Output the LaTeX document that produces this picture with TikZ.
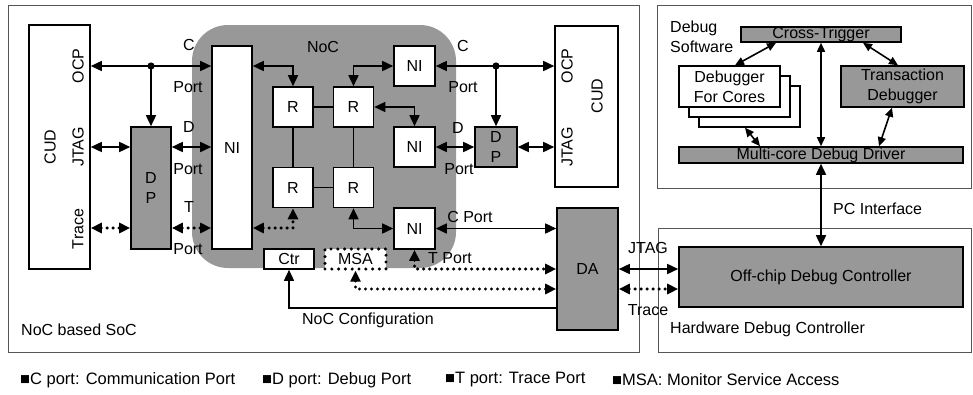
\documentclass[tikz,border=0pt]{standalone}
\usepackage{fontspec}
\setmainfont{Liberation Sans}
\usetikzlibrary{arrows.meta,calc}
\definecolor{ngray}{RGB}{152,152,152}
\definecolor{frame}{RGB}{85,85,85}
\begin{document}
\begin{tikzpicture}[x=1pt,y=-1pt,
  every node/.style={font=\fontsize{16}{20}\selectfont, inner sep=0pt, align=center},
  blk/.style={draw=black, line width=1.6pt, fill=white},
  gblk/.style={draw=black, line width=1.6pt, fill=ngray},
  frm/.style={draw=frame, line width=0.9pt},
  noc/.style={fill=ngray, rounded corners=36pt},
  conn/.style={line width=1.6pt},
  dots/.style={line width=3.4pt, dash pattern=on 0pt off 6pt, line cap=round},
  dotbox/.style={draw=black, fill=white, line width=3.4pt, dash pattern=on 0pt off 6.8pt, line cap=round},
  >={Triangle[length=11pt,width=10pt]},
  sm/.style={line width=1.6pt, >={Triangle[length=9pt,width=8pt]}},
  lbl/.style={anchor=west},
]
\useasboundingbox (0,0) rectangle (973,394);

% frames
\node[frm, minimum width=631, minimum height=347] (soc) at (323.5,178.5) {};
\node[frm, minimum width=314, minimum height=183] (sw) at (814,96.5) {};
\node[frm, minimum width=313, minimum height=124] (hw) at (814.5,290) {};
\node[lbl] (socl) at (21,330) {NoC based SoC};
\node[lbl] (hwl) at (670,329) {Hardware Debug Controller};
\node[anchor=west, align=left] (swl) at (670,37) {Debug\\Software};

% NoC region
\node[noc, minimum width=264, minimum height=243] (nocr) at (324,146.5) {};
\node (nocl) at (323,47) {NoC};

% y-levels
\coordinate (yC) at (0,66);
\coordinate (yD) at (0,147);
\coordinate (yT) at (0,228);
\coordinate (yM) at (0,289);
\coordinate (yN) at (0,308);

% left CUD
\node[blk, minimum width=61, minimum height=244] (cudL) at (59.5,147) {};
\node[rotate=90] (cudLt) at (50,147) {CUD};
\node[rotate=90] (ocpL) at (78,66) {OCP};
\node[rotate=90] (jtagL) at (78,147) {JTAG};
\node[rotate=90] (traceL) at (78,229) {Trace};

\node[gblk, minimum width=40, minimum height=122] (dpL) at (151,188) {D\\P};
\node[blk, minimum width=40, minimum height=203] (niL) at (232,147.5) {NI};

% routers
\node[blk, minimum width=40, minimum height=40] (r1) at (293,107) {R};
\node[blk, minimum width=40, minimum height=40] (r2) at (353.5,107) {R};
\node[blk, minimum width=40, minimum height=40] (r3) at (293,187.5) {R};
\node[blk, minimum width=40, minimum height=40] (r4) at (353.5,187.5) {R};

\node[blk, minimum width=41, minimum height=40] (niA) at (414.5,66) {NI};
\node[blk, minimum width=41, minimum height=40] (niB) at (414.5,147) {NI};
\node[blk, minimum width=41, minimum height=41] (niC) at (414.5,228.5) {NI};

\node[gblk, minimum width=42, minimum height=40] (dpR) at (496,147) {D\\P};
\node[blk, minimum width=63, minimum height=161] (cudR) at (586.5,106.5) {};
\node[rotate=90] (cudRt) at (597,96) {CUD};
\node[rotate=90] (ocpR) at (567,66) {OCP};
\node[rotate=90] (jtagR) at (567,147) {JTAG};

\node[blk, minimum width=50, minimum height=20] (ctr) at (289,259) {Ctr};
\node[dotbox, minimum width=61, minimum height=20] (msa) at (355.5,259) {MSA};
\node[gblk, minimum width=61, minimum height=122] (da) at (587.5,269) {DA};

% software / hardware
\node[gblk, minimum width=284, minimum height=60] (occ) at (821,277) {Off-chip Debug Controller};
\node[gblk, minimum width=284, minimum height=16] (mdd) at (821,155) {Multi-core Debug Driver};
\node[gblk, minimum width=160, minimum height=15] (ct) at (821,34.5) {Cross-Trigger};
\node[blk, line width=1.4pt, minimum width=101, minimum height=41] (dfc3) at (749.5,106.5) {};
\node[blk, line width=1.4pt, minimum width=101, minimum height=41] (dfc2) at (739.5,96.5) {};
\node[blk, line width=1.4pt, minimum width=101, minimum height=41] (dfc) at (729.5,86.5) {Debugger\\For Cores};
\node[gblk, line width=1.4pt, minimum width=123, minimum height=41] (td) at (902.5,86.5) {Transaction\\Debugger};

% router links
\draw[conn] (r1) -- (r2);
\draw[conn] (r1) -- (r3);
\draw[conn] (r2) -- (r4);
\draw[conn] (r3) -- (r4);

% left side connectors
\coordinate (dotL) at (151,66);
\draw[conn,<->] (cudL.east |- yC) -- (niL.west |- yC);
\draw[conn,->] (dotL) -- (dpL.north);
\fill (dotL) circle (3.6);
\draw[conn,<->] (cudL.east |- yD) -- (dpL.west |- yD);
\draw[conn,<->] (dpL.east |- yD) -- (niL.west |- yD);
\draw[dots,<->] (cudL.east |- yT) -- (dpL.west |- yT);
\draw[dots,<->] (dpL.east |- yT) -- (niL.west |- yT);
\node (cl1) at (189,45) {C};
\node (pl1) at (188,87) {Port};
\node (dl1) at (189,127) {D};
\node (pl2) at (188,169) {Port};
\node (tl1) at (189,207) {T};
\node (pl3) at (188,249) {Port};

% inner NoC connectors
\draw[conn,<->] (niL.east |- yC) -| (r1.north);
\draw[conn,<->] (niA.west) -| (r2.north);
\draw[conn,<->] (r2.east) -| (niB.north);
\draw[dots,<->] (niL.east |- yT) -| (r3.south);
\draw[conn,<->] (r4.south) |- (niC.west);

% right side connectors
\coordinate (dotR) at (496,66);
\draw[conn,<->] (niA.east) -- (cudR.west |- yC);
\draw[conn,->] (dotR) -- (dpR.north);
\fill (dotR) circle (3.6);
\draw[conn,<->] (niB.east) -- (dpR.west);
\draw[conn,<->] (dpR.east) -- (cudR.west |- yD);
\node (cl2) at (463,46) {C};
\node (pl4) at (463,87) {Port};
\node (dl2) at (458,128) {D};
\node (pl5) at (459,169) {Port};

% lower connectors to DA
\draw[conn,<->] (niC.east) -- (da.west |- niC.east);
\node (cpl) at (470,217) {C Port};
\draw[dots,<->] (niC.south) |- (da.west);
\node (tpl) at (450,258) {T Port};
\draw[dots,<->] (msa.south) |- (da.west |- yM);
\draw[conn,->] (da.west |- yN) -| (ctr.south);
\node (ncl) at (368,320) {NoC Configuration};

% DA to off-chip
\draw[conn,<->] (da.east) -- (occ.west |- da.east);
\draw[dots,<->] (da.east |- yM) -- (occ.west |- yM);
\node (jl) at (648,248) {JTAG};
\node (trl) at (648,310) {Trace};

% PC interface
\draw[conn,<->] (mdd.south) -- (occ.north);
\node[lbl] (pcl) at (833,209) {PC Interface};

% software arrows
\draw[sm,<->] (ct.south) -- (mdd.north);
\draw[sm,<->] ([xshift=-45pt]ct.south) -- ([xshift=5.5pt]dfc.north);
\draw[sm,<->] ([xshift=42pt]ct.south) -- ([xshift=-4.5pt]td.north);
\draw[sm,<->] ([xshift=-4.5pt]dfc3.south) -- ([xshift=-61pt]mdd.north);
\draw[sm,<->] ([xshift=-10.5pt]td.south) -- ([xshift=58pt]mdd.north);

% legend
\node[lbl, font=\fontsize{16.5}{20}\selectfont] (lg1) at (20,380) {■C port: Communication Port};
\node[lbl, font=\fontsize{16.5}{20}\selectfont] (lg2) at (262,380) {■D port: Debug Port};
\node[lbl, font=\fontsize{16.5}{20}\selectfont] (lg3) at (445,380) {■T port: Trace Port};
\node[lbl, font=\fontsize{16.5}{20}\selectfont] (lg4) at (612,380) {■MSA: Monitor Service Access};
\end{tikzpicture}
\end{document}
